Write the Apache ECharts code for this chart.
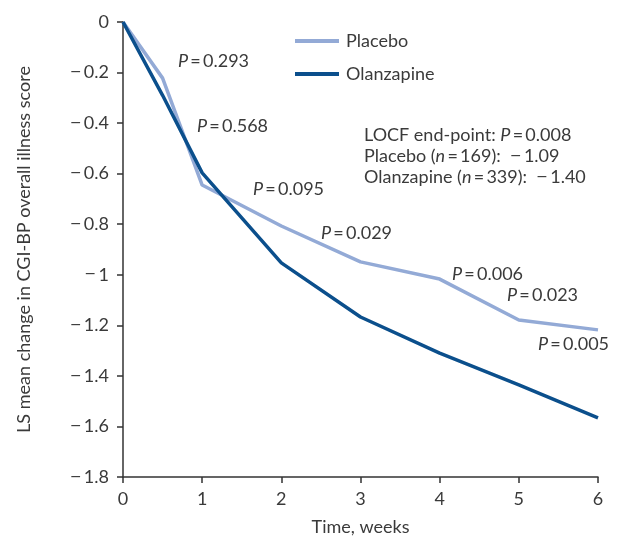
<!DOCTYPE html>
<html>
<head>
<meta charset="utf-8">
<script src="https://cdn.jsdelivr.net/npm/echarts@6/dist/echarts.min.js"></script>
<style>
  html, body { margin: 0; padding: 0; background: #fff; }
  #main { width: 621px; height: 536px; }
</style>
</head>
<body>
<div id="main"></div>
<script>
// weeks and LS mean change
const weeks = [0, 0.5, 1, 2, 3, 4, 5, 6];
const placebo = [0, -0.222, -0.645, -0.807, -0.949, -1.017, -1.179, -1.218];
const olanzapine = [0, -0.29, -0.597, -0.953, -1.167, -1.31, -1.436, -1.566];

// p-value labels, [text, x px, y px]
const pLabels = [
  ["0.293", 178, 63],
  ["0.568", 197, 128],
  ["0.095", 253, 191],
  ["0.029", 321, 235],
  ["0.006", 452, 276],
  ["0.023", 507, 297],
  ["0.005", 538, 346],
];

const FONT = "Lato, sans-serif";
const FS = 18;
const TXT = "#3a3a3a";
const pale = "#93aad6";
const dark = "#0b4f8c";
const SP = "\u2009";

// long minus sign like the original typesetting
const minusStyle = { fontFamily: "'DejaVu Sans', sans-serif", fontSize: 14, color: TXT, fill: TXT };

const fmtMinus = (v) => {
  if (v === 0) return "0";
  const s = Math.abs(v).toFixed(1).replace(/\.0$/, "");
  return v < 0 ? "{m|\u2212}{t|" + SP + s + "}" : "{t|" + s + "}";
};

const pair = (xs, ys) => xs.map((x, i) => [x, ys[i]]);

const rich = {
  i: { fontStyle: "italic", fontSize: FS, fontFamily: FONT, fill: TXT },
  r: { fontSize: FS, fontFamily: FONT, fill: TXT },
};

const graphics = pLabels.map(([val, x, y]) => ({
  type: "text",
  left: x,
  top: y - 11,
  style: { text: "{i|P}{r|" + SP + "=" + SP + val + "}", rich: rich },
}));

graphics.push({
  type: "text",
  left: 364,
  top: 126,
  style: {
    text:
      "{r|LOCF end-point: }{i|P}{r|" + SP + "=" + SP + "0.008}\n" +
      "{r|Placebo (}{i|n}{r|" + SP + "=" + SP + "169):  }{m|\u2212}{r|" + SP + "1.09}\n" +
      "{r|Olanzapine (}{i|n}{r|" + SP + "=" + SP + "339):  }{m|\u2212}{r|" + SP + "1.40}",
    rich: {
      i: { fontStyle: "italic", fontSize: FS, fontFamily: FONT, fill: TXT, lineHeight: 21 },
      r: { fontSize: FS, fontFamily: FONT, fill: TXT, lineHeight: 21 },
      m: Object.assign({ lineHeight: 21 }, minusStyle),
    },
  },
});

var myChart = echarts.init(document.getElementById("main"));

var option = {
  backgroundColor: "#fff",
  animation: false,
  grid: { left: 123, right: 23, top: 22, bottom: 59, outerBoundsMode: "none", containLabel: false },
  legend: {
    left: 290,
    top: 27,
    orient: "vertical",
    itemGap: 15,
    itemWidth: 44,
    itemHeight: 4,
    icon: "rect",
    textStyle: { fontSize: FS, fontFamily: FONT, color: TXT, padding: [0, 0, 0, 2] },
    data: ["Placebo", "Olanzapine"],
  },
  xAxis: {
    type: "value",
    min: 0,
    max: 6,
    interval: 1,
    name: "Time, weeks",
    nameLocation: "middle",
    nameGap: 41,
    nameTextStyle: { fontSize: FS, fontFamily: FONT, color: TXT },
    axisLine: { onZero: false, lineStyle: { color: "#333", width: 1.5 } },
    axisTick: { length: 6, lineStyle: { color: "#333", width: 1.5 } },
    axisLabel: { fontSize: FS, fontFamily: FONT, color: TXT, margin: 13 },
    splitLine: { show: false },
  },
  yAxis: {
    type: "value",
    min: -1.8,
    max: 0,
    interval: 0.2,
    name: "LS mean change in CGI-BP overall illness score",
    nameLocation: "middle",
    nameGap: 90,
    nameTextStyle: { fontSize: FS, fontFamily: FONT, color: TXT },
    axisLine: { show: true, lineStyle: { color: "#333", width: 1.5 } },
    axisTick: { show: true, length: 6, lineStyle: { color: "#333", width: 1.5 } },
    axisLabel: {
      fontSize: FS,
      fontFamily: FONT,
      color: TXT,
      margin: 14,
      formatter: fmtMinus,
      rich: {
        m: minusStyle,
        t: { fontSize: FS, fontFamily: FONT, color: TXT },
      },
    },
    splitLine: { show: false },
  },
  series: [
    {
      name: "Placebo",
      type: "line",
      data: pair(weeks, placebo),
      symbol: "none",
      color: pale,
      lineStyle: { color: pale, width: 3.5 },
      z: 2,
    },
    {
      name: "Olanzapine",
      type: "line",
      data: pair(weeks, olanzapine),
      symbol: "none",
      color: dark,
      lineStyle: { color: dark, width: 3.5 },
      z: 3,
    },
  ],
  graphic: graphics,
};

myChart.setOption(option);
</script>
</body>
</html>
